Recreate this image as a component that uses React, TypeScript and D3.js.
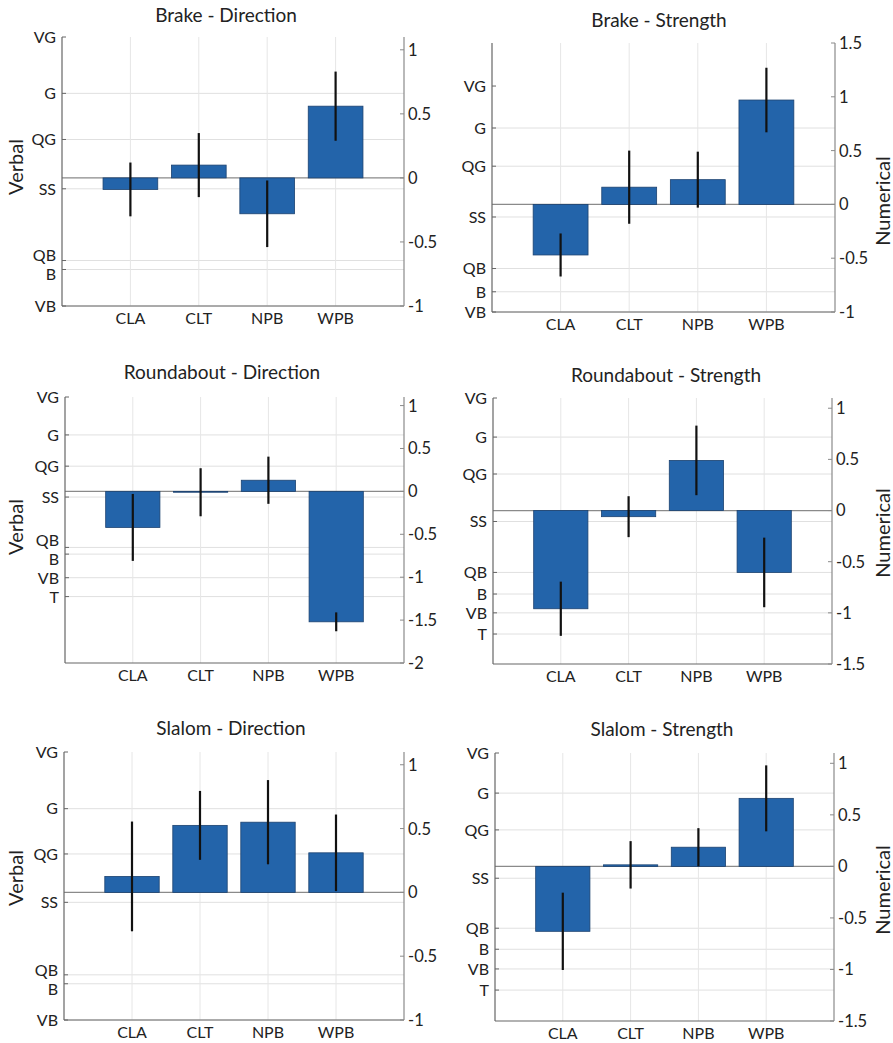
import React, { useEffect, useRef } from 'react';
import * as d3 from 'd3';

const categories = ["CLA", "CLT", "NPB", "WPB"];

const titles = [
    "Brake - Direction", "Brake - Strength",
    "Roundabout - Direction", "Roundabout - Strength",
    "Slalom - Direction", "Slalom - Strength"
];

// bar means and error half-lengths (numerical scale)
const brakeDirectionValues = [-0.09, 0.10, -0.28, 0.56];
const brakeDirectionErrors = [0.21, 0.25, 0.26, 0.27];
const brakeStrengthValues = [-0.47, 0.16, 0.23, 0.97];
const brakeStrengthErrors = [0.20, 0.34, 0.26, 0.30];
const roundaboutDirectionValues = [-0.42, -0.01, 0.13, -1.52];
const roundaboutDirectionErrors = [0.39, 0.28, 0.275, 0.11];
const roundaboutStrengthValues = [-0.96, -0.06, 0.49, -0.605];
const roundaboutStrengthErrors = [0.265, 0.20, 0.34, 0.34];
const slalomDirectionValues = [0.125, 0.525, 0.55, 0.31];
const slalomDirectionErrors = [0.43, 0.27, 0.33, 0.30];
const slalomStrengthValues = [-0.63, 0.015, 0.186, 0.66];
const slalomStrengthErrors = [0.375, 0.23, 0.185, 0.32];

// verbal tick labels and where they sit on the numerical scale
const verbalLabels = ["VG", "G", "QG", "SS", "QB", "B", "VB"];
const verbalLabelsT = ["VG", "G", "QG", "SS", "QB", "B", "VB", "T"];
const brakeDirectionVerbal = [1.1, 0.66, 0.30, -0.085, -0.645, -0.715, -1.0];
const brakeStrengthVerbal = [1.1, 0.71, 0.355, -0.117, -0.596, -0.812, -1.0];
const roundaboutDirectionVerbal = [1.1, 0.658, 0.294, -0.066, -0.653, -0.731, -1.006, -1.226];
const roundaboutStrengthVerbal = [1.1, 0.718, 0.357, -0.107, -0.605, -0.816, -1.0, -1.207];
const slalomDirectionVerbal = [1.1, 0.656, 0.301, -0.078, -0.646, -0.716, -1.0];
const slalomStrengthVerbal = [1.1, 0.711, 0.354, -0.115, -0.6, -0.804, -0.995, -1.2];

// numerical axis ticks and ranges
const ticksOne = [-1, -0.5, 0, 0.5, 1];
const ticksBrakeStrength = [-1, -0.5, 0, 0.5, 1, 1.5];
const ticksRoundaboutDirection = [-2, -1.5, -1, -0.5, 0, 0.5, 1];
const ticksLowStrength = [-1.5, -1, -0.5, 0, 0.5, 1];
const domainOne = [-1, 1.1];
const domainBrakeStrength = [-1, 1.5];
const domainRoundaboutDirection = [-2, 1.1];
const domainLowStrength = [-1.5, 1.1];

const panels = [
    { title: titles[0], values: brakeDirectionValues, errors: brakeDirectionErrors, verbal: brakeDirectionVerbal, labels: verbalLabels, ticks: ticksOne, domain: domainOne,
      box: { l: 62, r: 404, t: 37, b: 306 }, titleX: 226, titleY: 22, side: "left", axisLabelY: 167 },
    { title: titles[1], values: brakeStrengthValues, errors: brakeStrengthErrors, verbal: brakeStrengthVerbal, labels: verbalLabels, ticks: ticksBrakeStrength, domain: domainBrakeStrength,
      box: { l: 492, r: 835, t: 43, b: 312 }, titleX: 659, titleY: 27, side: "right", axisLabelY: 201 },
    { title: titles[2], values: roundaboutDirectionValues, errors: roundaboutDirectionErrors, verbal: roundaboutDirectionVerbal, labels: verbalLabelsT, ticks: ticksRoundaboutDirection, domain: domainRoundaboutDirection,
      box: { l: 65, r: 404, t: 397, b: 663 }, titleX: 222, titleY: 379, side: "left", axisLabelY: 527 },
    { title: titles[3], values: roundaboutStrengthValues, errors: roundaboutStrengthErrors, verbal: roundaboutStrengthVerbal, labels: verbalLabelsT, ticks: ticksLowStrength, domain: domainLowStrength,
      box: { l: 493, r: 832, t: 398, b: 664 }, titleX: 666, titleY: 382, side: "right", axisLabelY: 533 },
    { title: titles[4], values: slalomDirectionValues, errors: slalomDirectionErrors, verbal: slalomDirectionVerbal, labels: verbalLabels, ticks: ticksOne, domain: domainOne,
      box: { l: 64, r: 404, t: 752, b: 1020 }, titleX: 231, titleY: 735, side: "left", axisLabelY: 878 },
    { title: titles[5], values: slalomStrengthValues, errors: slalomStrengthErrors, verbal: slalomStrengthVerbal, labels: verbalLabelsT, ticks: ticksLowStrength, domain: domainLowStrength,
      box: { l: 495, r: 834, t: 753, b: 1021 }, titleX: 662, titleY: 736, side: "right", axisLabelY: 890 }
];

const FONT = "Lato, 'Open Sans', sans-serif";
const TEXT = "#222";

// push overlapping tick labels apart
const spreadLabels = (ys, gap) => {
    const out = ys.slice();
    for (let k = 0; k < 40; k++) {
        for (let i = 1; i < out.length; i++) {
            const d = out[i] - out[i - 1];
            if (d < gap) {
                const m = (gap - d) / 2;
                out[i - 1] -= m;
                out[i] += m;
            }
        }
    }
    return out;
};

const App = () => {
    const wrapper = useRef(null);

    useEffect(() => {
        d3.select(wrapper.current).selectAll("svg").remove();

        const svg = d3.select(wrapper.current)
            .append("svg")
            .attr("width", 893)
            .attr("height", 1043)
            .style("position", "absolute")
            .style("left", 0)
            .style("top", 0)
            .style("background", "#fff")
            .style("font-family", FONT);

        panels.forEach(p => {
            const { l, r, t, b } = p.box;
            const x = d3.scaleLinear().domain([0, 5]).range([l, r]);
            const y = d3.scaleLinear().domain(p.domain).range([b, t]);
            const g = svg.append("g");

            // grid
            g.selectAll(".hgrid")
                .data(p.verbal.slice(1))
                .join("line")
                .attr("x1", l).attr("x2", r)
                .attr("y1", d => y(d)).attr("y2", d => y(d))
                .attr("stroke", "#e0e0e0").attr("stroke-width", 1);
            g.selectAll(".vgrid")
                .data(categories)
                .join("line")
                .attr("x1", (d, i) => x(i + 1)).attr("x2", (d, i) => x(i + 1))
                .attr("y1", t).attr("y2", b)
                .attr("stroke", "#e6e6e6").attr("stroke-width", 1);

            // zero line
            g.append("line")
                .attr("x1", l).attr("x2", r)
                .attr("y1", y(0)).attr("y2", y(0))
                .attr("stroke", "#8a8a8a").attr("stroke-width", 1.3);

            // bars
            g.selectAll(".bar")
                .data(p.values)
                .join("rect")
                .attr("x", (d, i) => x(i + 1 - 0.4))
                .attr("width", x(0.8) - x(0))
                .attr("y", d => Math.min(y(d), y(0)))
                .attr("height", d => Math.abs(y(d) - y(0)))
                .attr("fill", "#2364aa")
                .attr("stroke", "#1c4270")
                .attr("stroke-width", 0.8);

            // error bars
            g.selectAll(".err")
                .data(p.values)
                .join("line")
                .attr("x1", (d, i) => x(i + 1)).attr("x2", (d, i) => x(i + 1))
                .attr("y1", (d, i) => y(d + p.errors[i]))
                .attr("y2", (d, i) => y(d - p.errors[i]))
                .attr("stroke", "#111").attr("stroke-width", 2.2);

            // axes lines
            g.append("line")
                .attr("x1", l).attr("x2", l).attr("y1", t).attr("y2", b)
                .attr("stroke", "#666").attr("stroke-width", 1.2);
            g.append("line")
                .attr("x1", l).attr("x2", r).attr("y1", b).attr("y2", b)
                .attr("stroke", "#666").attr("stroke-width", 1.2);
            g.append("line")
                .attr("x1", r).attr("x2", r).attr("y1", t).attr("y2", b)
                .attr("stroke", "#8a8a8a").attr("stroke-width", 1.2);

            // left verbal ticks
            g.selectAll(".lt")
                .data(p.verbal)
                .join("line")
                .attr("x1", l).attr("x2", l + 4)
                .attr("y1", d => y(d)).attr("y2", d => y(d))
                .attr("stroke", "#666");
            const labelYs = spreadLabels(p.verbal.map(d => y(d)), 19);
            g.selectAll(".ll")
                .data(p.labels)
                .join("text")
                .attr("x", l - 6)
                .attr("y", (d, i) => labelYs[i])
                .attr("dy", "0.36em")
                .attr("text-anchor", "end")
                .attr("font-size", 16)
                .attr("fill", TEXT)
                .text(d => d);

            // right numerical ticks
            g.selectAll(".rt")
                .data(p.ticks)
                .join("line")
                .attr("x1", r - 4).attr("x2", r)
                .attr("y1", d => y(d)).attr("y2", d => y(d))
                .attr("stroke", "#8a8a8a");
            g.selectAll(".rl")
                .data(p.ticks)
                .join("text")
                .attr("x", r + 4)
                .attr("y", d => y(d))
                .attr("dy", "0.36em")
                .attr("font-size", 16.5)
                .attr("fill", TEXT)
                .text(d => String(d));

            // category labels
            g.selectAll(".cl")
                .data(categories)
                .join("text")
                .attr("x", (d, i) => x(i + 1))
                .attr("y", b + 18)
                .attr("text-anchor", "middle")
                .attr("font-size", 16)
                .attr("fill", TEXT)
                .text(d => d);

            // title
            g.append("text")
                .attr("x", p.titleX)
                .attr("y", p.titleY)
                .attr("text-anchor", "middle")
                .attr("font-size", 19)
                .attr("fill", TEXT)
                .text(p.title);

            // axis label
            const ax = p.side === "left" ? 16 : 883;
            g.append("text")
                .attr("transform", `translate(${ax},${p.axisLabelY}) rotate(-90)`)
                .attr("text-anchor", "middle")
                .attr("dy", "0.35em")
                .attr("font-size", 20)
                .attr("fill", TEXT)
                .text(p.side === "left" ? "Verbal" : "Numerical");
        });
    }, []);

    return (
        <div className={"bar-panels"} ref={wrapper}>
        </div>
    );
};

export default App;
